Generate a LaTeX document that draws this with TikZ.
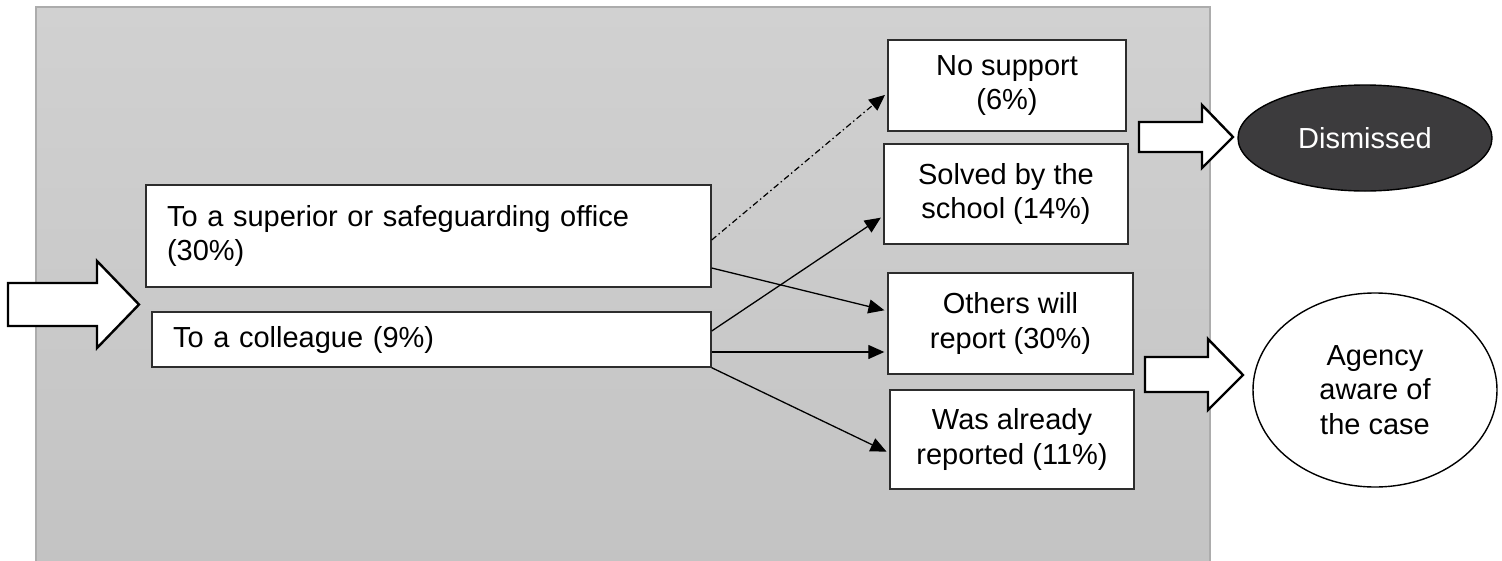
\documentclass[tikz,border=0pt]{standalone}
\usepackage{fontspec}
\setmainfont{Liberation Sans}
\usetikzlibrary{arrows.meta,positioning,shapes.geometric}
\definecolor{bgtop}{RGB}{209,209,209}
\definecolor{bgbot}{RGB}{195,195,195}
\definecolor{bgline}{RGB}{172,172,172}
\definecolor{boxline}{RGB}{45,45,45}
\definecolor{darkfill}{RGB}{60,59,61}

\begin{document}
\begin{tikzpicture}[x=1pt,y=-1pt,
  font=\fontsize{29}{34.5}\selectfont,
  lbox/.style={draw=boxline,line width=1.4pt,fill=white,inner xsep=21pt,align=left},
  rbox/.style={draw=boxline,line width=1.4pt,fill=white,align=center},
  oval/.style={ellipse,draw=black,line width=1.4pt,align=center,inner sep=0pt},
  barrow/.style={draw=black,line width=2.4pt,fill=white,line join=miter},
  arr/.style={-{Triangle[length=16pt,width=14pt]},line width=1.3pt,shorten >=3pt}
]
  \useasboundingbox (0,0) rectangle (1502,560);

  % Grey panel
  \shade[top color=bgtop,bottom color=bgbot] (36,7) rectangle (1210,570);
  \draw[bgline,line width=1.5pt] (36,570) |- (1210,7) -- (1210,570);

  % Who was told
  \node[lbox,text width=523pt,minimum height=102pt] (sup) at (428.5,236)
    {To a superior or safeguarding office\\(30\%)};
  \node[lbox,text width=517pt,minimum height=55pt] (col) at (431.5,339.5)
    {To a colleague (9\%)};

  % Outcomes
  \node[rbox,minimum width=238pt,minimum height=91pt] (nosup) at (1007,85.5) {No support\\(6\%)};
  \node[rbox,minimum width=244pt,minimum height=100pt] (solved) at (1006,194) {Solved by the\\school (14\%)};
  \node[rbox,minimum width=245pt,minimum height=101pt] (others) at (1010.5,323.5) {Others will\\report (30\%)};
  \node[rbox,minimum width=244pt,minimum height=99pt] (already) at (1012,439.5) {Was already\\reported (11\%)};

  % End states
  \node[oval,fill=darkfill,text=white,minimum width=254pt,minimum height=106pt] (dism) at (1365,138) {Dismissed};
  \node[oval,fill=white,minimum width=244pt,minimum height=194pt] (agency) at (1375,390) {Agency\\aware of\\the case};

  % Block arrows
  \draw[barrow] (8,283) -- (97,283) -- (97,261) -- (139,304.5) -- (97,348) -- (97,326) -- (8,326) -- cycle;
  \draw[barrow] (1139,122) -- (1202,122) -- (1202,105) -- (1233,137) -- (1202,168) -- (1202,152) -- (1139,152) -- cycle;
  \draw[barrow] (1145,357) -- (1208,357) -- (1208,339) -- (1243,375) -- (1208,410) -- (1208,392) -- (1145,392) -- cycle;

  % Connectors
  \draw[arr,line width=1.2pt,dash pattern=on 6pt off 3pt on 1.5pt off 3pt]
    ([yshift=-4pt]sup.east) -- ([yshift=-7.5pt]nosup.west);
  \draw[arr] ([yshift=-32pt]sup.east) -- ([yshift=12.5pt]others.west);
  \draw[arr] ([yshift=8.5pt]col.east) -- ([yshift=-22pt]solved.west);
  \draw[arr] ([yshift=-12.5pt]col.east) -- ([yshift=-28.5pt]others.west);
  \draw[arr] (col.south east) -- ([yshift=-13.5pt]already.west);
\end{tikzpicture}
\end{document}
